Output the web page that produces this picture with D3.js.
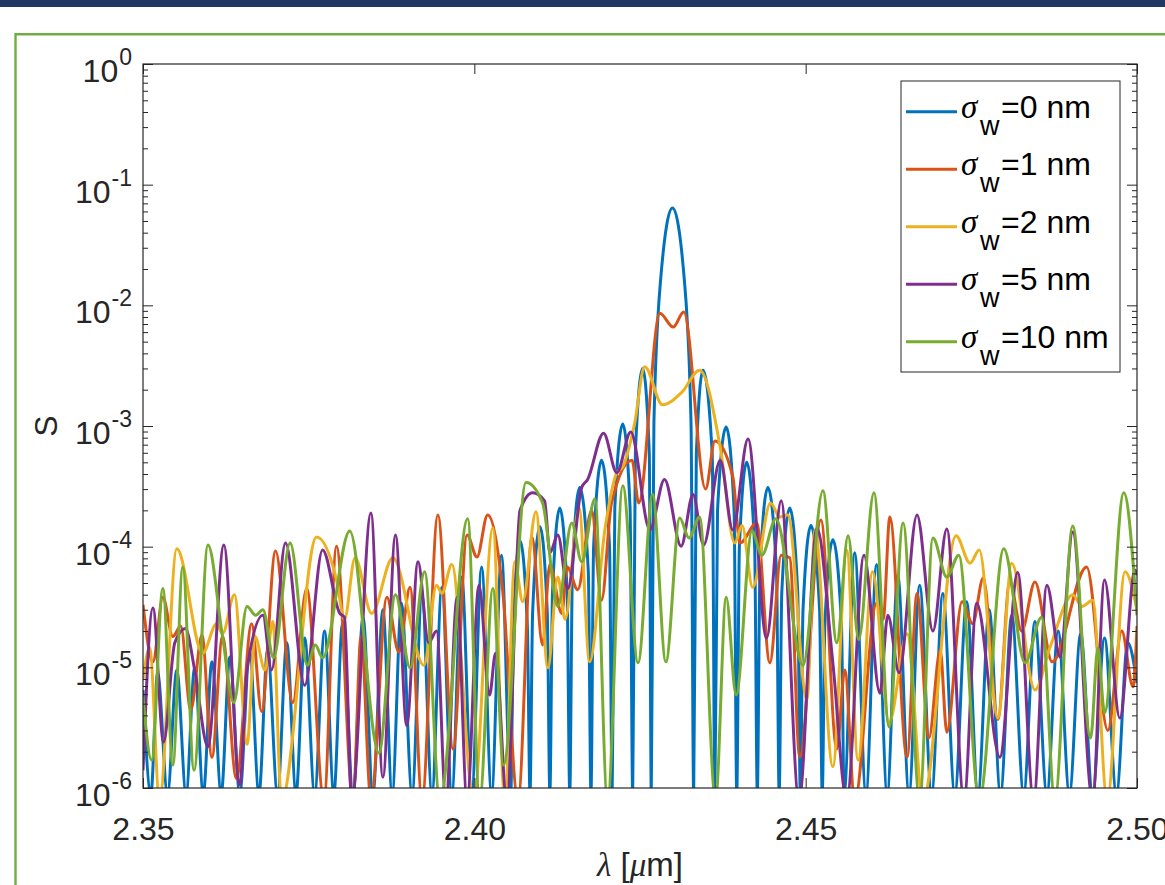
<!DOCTYPE html>
<html>
<head>
<meta charset="utf-8">
<script src="https://cdn.jsdelivr.net/npm/d3@7"></script>
<style>
  html, body { margin: 0; padding: 0; background: #fff; }
  svg { display: block; font-family: "Liberation Sans", Arial, sans-serif; }
</style>
</head>
<body>
<svg id="chart" width="1165" height="885"></svg>
<script>
const xTicks = [2.35, 2.40, 2.45, 2.50];
const xTickLabels = ["2.35", "2.40", "2.45", "2.50"];
const yExponents = [0, -1, -2, -3, -4, -5, -6];
const seriesNames = ["0", "1", "2", "5", "10"];
const seriesColors = ["#0072BD", "#D95319", "#EDB120", "#7E2F8E", "#77AC30"];

// [lambda (um), S]; values under 1e-6 mark dips that fall below the axis floor
const sigma0 = [
  [2.3500, 6.5e-6], [2.3512, 9e-7], [2.3522, 9.0e-6], [2.3537, 9e-7], [2.3551, 9.5e-6], [2.3565, 9e-7],
  [2.3578, 9.9e-6], [2.3591, 9e-7], [2.3604, 1.11e-5], [2.3618, 9e-7], [2.3631, 1.22e-5], [2.3646, 9e-7],
  [2.3661, 1.34e-5], [2.3675, 9e-7], [2.3688, 1.39e-5], [2.3703, 9e-7], [2.3717, 1.6e-5], [2.3731, 9e-7],
  [2.3744, 1.75e-5], [2.3759, 9e-7], [2.3774, 2.0e-5], [2.3788, 9e-7], [2.3801, 2.3e-5], [2.3817, 9e-7],
  [2.3832, 2.6e-5], [2.3847, 9e-7], [2.3862, 3.0e-5], [2.3876, 9e-7], [2.3890, 3.4e-5], [2.3906, 9e-7],
  [2.3921, 4.0e-5], [2.3936, 9e-7], [2.3951, 4.6e-5], [2.3966, 9e-7], [2.3981, 5.6e-5], [2.3996, 9e-7],
  [2.4011, 6.8e-5], [2.4026, 9e-7], [2.4041, 8.5e-5], [2.4055, 9e-7],
  [2.4059, 2.2e-5], [2.4069, 1.12e-4], [2.4080, 2.2e-5], [2.4084, 9e-7],
  [2.4088, 2.9e-5], [2.4099, 1.46e-4], [2.4110, 2.9e-5], [2.4114, 9e-7],
  [2.4118, 4.2e-5], [2.4129, 2.09e-4], [2.4140, 4.2e-5], [2.4144, 9e-7],
  [2.4148, 6.2e-5], [2.4159, 3.1e-4], [2.4172, 6.2e-5], [2.4176, 9e-7],
  [2.4180, 1.0e-4], [2.4192, 5.2e-4], [2.4204, 1.0e-4], [2.4208, 9e-7],
  [2.4212, 2.1e-4], [2.4224, 1.04e-3], [2.4235, 2.1e-4], [2.4239, 9e-7],
  [2.4243, 6.0e-4], [2.4254, 3.0e-3], [2.4264, 6.0e-4], [2.4267, 9e-7],
  [2.4271, 1.06e-3], [2.4281, 1.6e-2], [2.4299, 6.4e-2], [2.4317, 1.6e-2], [2.4327, 1.06e-3], [2.4331, 9e-7],
  [2.4335, 5.8e-4], [2.4345, 2.9e-3], [2.4359, 5.8e-4], [2.4363, 9e-7],
  [2.4367, 2.0e-4], [2.4380, 9.8e-4], [2.4392, 2.0e-4], [2.4396, 9e-7],
  [2.4400, 1.0e-4], [2.4411, 5.0e-4], [2.4423, 1.0e-4], [2.4427, 9e-7],
  [2.4431, 6.2e-5], [2.4443, 3.1e-4], [2.4456, 6.2e-5], [2.4460, 9e-7],
  [2.4464, 4.2e-5], [2.4476, 2.09e-4], [2.4488, 4.2e-5], [2.4492, 9e-7],
  [2.4496, 3.0e-5], [2.4508, 1.5e-4], [2.4521, 3.0e-5], [2.4525, 9e-7],
  [2.4529, 2.3e-5], [2.4541, 1.14e-4], [2.4554, 2.3e-5], [2.4558, 9e-7],
  [2.4574, 8.9e-5], [2.4591, 9e-7], [2.4607, 7.1e-5], [2.4623, 9e-7], [2.4639, 5.8e-5], [2.4656, 9e-7],
  [2.4672, 4.8e-5], [2.4690, 9e-7], [2.4707, 4.1e-5], [2.4725, 9e-7], [2.4743, 3.5e-5], [2.4760, 9e-7],
  [2.4777, 3.0e-5], [2.4794, 9e-7], [2.4811, 2.7e-5], [2.4829, 9e-7], [2.4846, 2.4e-5], [2.4864, 9e-7],
  [2.4881, 2.0e-5], [2.4898, 9e-7], [2.4915, 1.9e-5], [2.4933, 9e-7], [2.4951, 1.75e-5], [2.4969, 9e-7],
  [2.4986, 1.6e-5], [2.5000, 7.4e-6]
];

const sigma1 = [
  [2.3500, 3.3e-5], [2.3515, 1.11e-5], [2.3530, 3.8e-5], [2.3545, 1.8e-5], [2.3557, 2.2e-5], [2.3572, 4.4e-6],
  [2.3589, 1.85e-5], [2.3604, 1.8e-6], [2.3620, 1.8e-5], [2.3641, 1.2e-6], [2.3664, 2.3e-5], [2.3679, 4.3e-6],
  [2.3700, 9.2e-5], [2.3726, 5.1e-6], [2.3747, 4.5e-5], [2.3773, 8e-7], [2.3792, 1.01e-4], [2.3817, 8e-7],
  [2.3829, 1.8e-5], [2.3844, 8e-7], [2.3868, 3.8e-5], [2.3886, 1.34e-5], [2.3903, 4.6e-5], [2.3921, 8e-7],
  [2.3945, 1.83e-4], [2.3968, 2.1e-6], [2.3989, 1.25e-4], [2.4004, 8.2e-5], [2.4020, 1.83e-4], [2.4043, 4.2e-5],
  [2.4066, 8e-7], [2.4087, 1.2e-4], [2.4103, 1.53e-5], [2.4114, 7.1e-5], [2.4132, 2.8e-5], [2.4140, 6.8e-5],
  [2.4156, 4.4e-5], [2.4177, 2.0e-4], [2.4192, 3.6e-5], [2.4207, 2.3e-4], [2.4238, 5.2e-4], [2.4248, 2.3e-4],
  [2.4280, 8.6e-3], [2.4300, 6.6e-3], [2.4316, 8.8e-3], [2.4349, 3.0e-4], [2.4363, 7.5e-4], [2.4390, 3.8e-4],
  [2.4401, 1.07e-4], [2.4426, 1.57e-4], [2.4446, 1.09e-5], [2.4463, 8.5e-5], [2.4476, 8.1e-5], [2.4491, 1.8e-6],
  [2.4523, 1.66e-4], [2.4547, 2.1e-6], [2.4559, 9.5e-6], [2.4574, 8e-7], [2.4607, 3.4e-5], [2.4617, 2.5e-5],
  [2.4627, 1.76e-4], [2.4653, 1.8e-6], [2.4668, 4.1e-5], [2.4686, 2.6e-6], [2.4703, 1.39e-5], [2.4713, 2.9e-6],
  [2.4736, 3.5e-5], [2.4752, 2.3e-5], [2.4768, 5.5e-5], [2.4790, 3.7e-6], [2.4808, 5.1e-5], [2.4826, 2.0e-5],
  [2.4846, 5.1e-5], [2.4872, 1.11e-5], [2.4924, 6.8e-5], [2.4956, 3.0e-6], [2.4977, 2.0e-5], [2.4994, 6.9e-6],
  [2.5000, 2.2e-5]
];

const sigma2 = [
  [2.3500, 7.9e-6], [2.3510, 1.45e-5], [2.3525, 8e-7], [2.3551, 9.6e-5], [2.3590, 1.31e-5], [2.3611, 2.3e-5],
  [2.3620, 1.9e-5], [2.3638, 4.0e-5], [2.3657, 2.3e-6], [2.3669, 1.8e-5], [2.3684, 9.5e-6], [2.3696, 2.4e-5],
  [2.3709, 8e-7], [2.3762, 1.2e-4], [2.3792, 5.3e-5], [2.3804, 2.5e-5], [2.3820, 8.1e-5], [2.3845, 2.8e-5],
  [2.3877, 8.1e-5], [2.3924, 1.04e-5], [2.3943, 4.8e-5], [2.3951, 4.1e-5], [2.3966, 7.1e-5], [2.3999, 8e-7],
  [2.4028, 1.43e-4], [2.4046, 8e-7], [2.4061, 7.5e-5], [2.4073, 3.5e-5], [2.4093, 1.95e-4], [2.4111, 9.9e-6],
  [2.4126, 5.6e-5], [2.4137, 2.5e-5], [2.4158, 2.09e-4], [2.4174, 1.11e-5], [2.4197, 1.38e-4], [2.4215, 4.1e-4],
  [2.4224, 4.6e-4], [2.4242, 1.06e-3], [2.4257, 3.1e-3], [2.4284, 1.5e-3], [2.4313, 1.9e-3], [2.4340, 2.9e-3],
  [2.4371, 6.7e-4], [2.4393, 1.07e-4], [2.4404, 1.5e-4], [2.4420, 4.6e-5], [2.4447, 2.3e-4], [2.4461, 1.76e-4],
  [2.4473, 1.83e-4], [2.4502, 5.4e-6], [2.4514, 1.38e-4], [2.4541, 1.5e-6], [2.4562, 9.4e-5], [2.4579, 1.7e-6],
  [2.4601, 6.2e-5], [2.4626, 3.5e-6], [2.4653, 1.9e-5], [2.4677, 8e-7], [2.4727, 1.23e-4], [2.4748, 7.3e-5],
  [2.4762, 9.4e-5], [2.4790, 3.8e-6], [2.4811, 7.3e-5], [2.4846, 6.5e-6], [2.4869, 1.48e-5], [2.4903, 4.0e-5],
  [2.4917, 3.2e-5], [2.4933, 3.6e-5], [2.4955, 8e-7], [2.4982, 6.2e-5], [2.5000, 3.0e-5]
];

const sigma5 = [
  [2.3500, 1.4e-6], [2.3515, 3.1e-5], [2.3531, 2.4e-6], [2.3548, 1.6e-5], [2.3564, 2.1e-5], [2.3578, 9.5e-6],
  [2.3598, 2.2e-6], [2.3622, 1.03e-4], [2.3646, 1.06e-6], [2.3657, 9.5e-6], [2.3681, 2.7e-5], [2.3694, 9.5e-6],
  [2.3715, 1.07e-4], [2.3744, 7.1e-6], [2.3771, 9.4e-5], [2.3797, 2.8e-5], [2.3804, 2.6e-5], [2.3815, 8e-7],
  [2.3844, 1.9e-4], [2.3862, 1.23e-6], [2.3881, 1.25e-4], [2.3898, 3.3e-6], [2.3915, 7.5e-5], [2.3931, 1.6e-5],
  [2.3943, 2.0e-5], [2.3957, 8e-7], [2.3974, 3.8e-5], [2.3989, 8e-7], [2.4007, 4.8e-5], [2.4023, 5.9e-6],
  [2.4032, 1.31e-5], [2.4049, 8e-7], [2.4069, 2.0e-4], [2.4088, 2.8e-4], [2.4106, 2.4e-4], [2.4114, 8.9e-5],
  [2.4126, 1.25e-4], [2.4141, 4.5e-5], [2.4162, 3.1e-4], [2.4171, 3.6e-4], [2.4195, 8.7e-4], [2.4215, 4.1e-4],
  [2.4236, 8.9e-4], [2.4265, 1.38e-4], [2.4287, 3.6e-4], [2.4312, 1.01e-4], [2.4330, 2.7e-4], [2.4346, 1.03e-4],
  [2.4371, 5.2e-4], [2.4390, 1.38e-4], [2.4413, 7.8e-4], [2.4441, 1.75e-5], [2.4463, 2.4e-4], [2.4490, 8e-7],
  [2.4517, 1.43e-4], [2.4541, 1.09e-5], [2.4562, 8e-7], [2.4588, 8.5e-5], [2.4612, 6.1e-6], [2.4624, 2.7e-5],
  [2.4641, 9.0e-6], [2.4668, 1.83e-4], [2.4692, 2.0e-5], [2.4713, 1.4e-4], [2.4739, 8e-7], [2.4758, 3.4e-5],
  [2.4793, 1.8e-6], [2.4820, 6.1e-5], [2.4844, 8e-7], [2.4864, 4.8e-5], [2.4884, 1.22e-5], [2.4903, 1.32e-4],
  [2.4933, 8e-7], [2.4951, 5.3e-5], [2.4974, 3.8e-6], [2.4997, 6.4e-5], [2.5000, 5.8e-5]
];

const sigma10 = [
  [2.3500, 5.7e-6], [2.3513, 1.7e-6], [2.3530, 4.5e-5], [2.3545, 1.55e-6], [2.3560, 6.8e-5], [2.3577, 1.4e-6],
  [2.3598, 1.03e-4], [2.3620, 1.8e-5], [2.3637, 5.1e-6], [2.3657, 3.2e-5], [2.3670, 2.7e-5], [2.3681, 3.0e-5],
  [2.3697, 1.2e-5], [2.3722, 1.07e-4], [2.3748, 1.04e-5], [2.3760, 1.53e-5], [2.3771, 1.2e-5], [2.3812, 1.35e-4],
  [2.3856, 1.95e-6], [2.3881, 4.0e-5], [2.3903, 9.9e-6], [2.3925, 6.2e-5], [2.3948, 8e-7], [2.3990, 1.7e-4],
  [2.4008, 8e-7], [2.4028, 4.5e-5], [2.4044, 1.55e-6], [2.4078, 3.4e-4], [2.4103, 2.3e-4], [2.4126, 3.2e-5],
  [2.4147, 1.57e-4], [2.4162, 7.5e-5], [2.4182, 2.5e-4], [2.4201, 8e-7], [2.4224, 3.2e-4], [2.4247, 1.09e-5],
  [2.4269, 2.7e-4], [2.4289, 1.11e-5], [2.4310, 1.73e-4], [2.4324, 1.18e-4], [2.4340, 1.76e-4], [2.4364, 8e-7],
  [2.4380, 3.8e-5], [2.4395, 5.9e-6], [2.4419, 1.35e-4], [2.4434, 8.5e-5], [2.4455, 1.7e-4], [2.4496, 1.04e-5],
  [2.4526, 2.9e-4], [2.4547, 1.6e-5], [2.4564, 1.23e-4], [2.4580, 1.7e-5], [2.4603, 2.8e-4], [2.4626, 3.2e-6],
  [2.4647, 1.57e-4], [2.4672, 8e-7], [2.4692, 1.18e-4], [2.4713, 5.6e-5], [2.4731, 8.5e-5], [2.4762, 8e-7],
  [2.4799, 9.6e-5], [2.4831, 1.09e-5], [2.4856, 2.6e-5], [2.4876, 8e-7], [2.4903, 1.48e-4], [2.4930, 2.6e-6],
  [2.4941, 1.45e-5], [2.4951, 4.2e-6], [2.4980, 2.8e-4], [2.5000, 2.7e-5]
];

const series = [sigma0, sigma1, sigma2, sigma5, sigma10];

const svg = d3.select("#chart");
const width = Number.parseFloat(svg.attr("width"));
const height = Number.parseFloat(svg.attr("height"));

const margin = { top: 64, right: 28, bottom: 97, left: 143 };
const innerWidth = width - margin.left - margin.right;
const innerHeight = height - margin.top - margin.bottom;
const axisColor = "#262626";

// slide frame round the figure
svg.append("rect").attr("x", 0).attr("y", 0).attr("width", width).attr("height", 7).attr("fill", "#203864");
svg.append("path")
  .attr("d", `M15.5,${height} V34.3 H${width}`)
  .attr("fill", "none")
  .attr("stroke", "#70ad47")
  .attr("stroke-width", 2.4);

const svgElemGroup = svg.append("g").attr("transform", `translate(${margin.left},${margin.top})`);

const xScale = d3.scaleLinear().domain([2.35, 2.5]).range([0, innerWidth]);
const yScale = d3.scaleLog().domain([1e-6, 1]).range([innerHeight, 0]);

svgElemGroup.append("defs").append("clipPath").attr("id", "plotClip")
  .append("rect").attr("width", innerWidth).attr("height", innerHeight);

const lineGenerator = d3.line()
  .x((d) => xScale(d[0]))
  .y((d) => yScale(d[1]))
  .curve(d3.curveMonotoneX);

svgElemGroup.append("g")
  .attr("clip-path", "url(#plotClip)")
  .selectAll("path")
  .data(series)
  .join("path")
  .attr("d", lineGenerator)
  .attr("fill", "none")
  .attr("stroke", (d, i) => seriesColors[i])
  .attr("stroke-width", 3)
  .attr("stroke-linejoin", "round");

// axes: ticks point inwards, box drawn separately
const majorY = yExponents.map((e) => Math.pow(10, e));
const minorY = [];
for (let e = -6; e < 0; e++) {
  for (let m = 2; m <= 9; m++) minorY.push(m * Math.pow(10, e));
}

function styleAxis(sel) {
  sel.select(".domain").remove();
  sel.attr("color", axisColor)
    .attr("font-size", 32)
    .attr("font-family", '"Liberation Sans", Arial, sans-serif');
}
function tickOnly(sel) {
  styleAxis(sel);
  sel.selectAll("text").remove();
}

svgElemGroup.append("g")
  .attr("transform", `translate(0,${innerHeight})`)
  .call(d3.axisBottom(xScale).tickValues(xTicks).tickFormat((d, i) => xTickLabels[i])
    .tickSizeInner(-10).tickSizeOuter(0).tickPadding(29))
  .call(styleAxis);
svgElemGroup.append("g")
  .call(d3.axisTop(xScale).tickValues(xTicks).tickSizeInner(-10).tickSizeOuter(0))
  .call(tickOnly);
svgElemGroup.append("g")
  .call(d3.axisLeft(yScale).tickValues(majorY).tickSizeInner(-10).tickSizeOuter(0))
  .call(tickOnly);
svgElemGroup.append("g")
  .call(d3.axisLeft(yScale).tickValues(minorY).tickSizeInner(-5).tickSizeOuter(0))
  .call(tickOnly);
svgElemGroup.append("g")
  .attr("transform", `translate(${innerWidth},0)`)
  .call(d3.axisRight(yScale).tickValues(majorY).tickSizeInner(-10).tickSizeOuter(0))
  .call(tickOnly);
svgElemGroup.append("g")
  .attr("transform", `translate(${innerWidth},0)`)
  .call(d3.axisRight(yScale).tickValues(minorY).tickSizeInner(-5).tickSizeOuter(0))
  .call(tickOnly);

svgElemGroup.append("rect")
  .attr("width", innerWidth)
  .attr("height", innerHeight)
  .attr("fill", "none")
  .attr("stroke", axisColor)
  .attr("stroke-width", 1.2);

// y tick labels 10^n
const yLabelGroup = svgElemGroup.append("g").attr("fill", axisColor);
yExponents.forEach((e) => {
  const y = yScale(Math.pow(10, e));
  const sup = yLabelGroup.append("text")
    .attr("x", -11)
    .attr("y", y + 1)
    .attr("text-anchor", "end")
    .attr("font-size", 23)
    .text(String(e));
  const w = sup.node().getComputedTextLength();
  yLabelGroup.append("text")
    .attr("x", -11 - w - 1)
    .attr("y", y + 18)
    .attr("text-anchor", "end")
    .attr("font-size", 32)
    .text("10");
});

// axis titles
svg.append("text")
  .attr("transform", "translate(57,426) rotate(-90)")
  .attr("text-anchor", "middle")
  .attr("font-size", 32)
  .attr("fill", axisColor)
  .text("S");

const xTitle = svg.append("text")
  .attr("x", margin.left + innerWidth / 2)
  .attr("y", 876)
  .attr("text-anchor", "middle")
  .attr("font-size", 33)
  .attr("fill", axisColor);
xTitle.append("tspan").attr("font-style", "italic").attr("font-family", '"Liberation Serif", serif').text("λ");
xTitle.append("tspan").text(" [");
xTitle.append("tspan").attr("font-style", "italic").attr("font-family", '"Liberation Serif", serif').text("μ");
xTitle.append("tspan").text("m]");

// legend
const legend = svg.append("g").attr("fill", "#000");
legend.append("rect")
  .attr("x", 901).attr("y", 81)
  .attr("width", 219).attr("height", 291)
  .attr("fill", "#fff")
  .attr("stroke", axisColor)
  .attr("stroke-width", 1);

seriesNames.forEach((name, i) => {
  const ly = 111.7 + i * 57.5;
  legend.append("line")
    .attr("x1", 906).attr("x2", 957)
    .attr("y1", ly).attr("y2", ly)
    .attr("stroke", seriesColors[i])
    .attr("stroke-width", 3);
  legend.append("text")
    .attr("x", 961).attr("y", ly + 6)
    .attr("font-size", 33)
    .attr("font-style", "italic")
    .attr("font-family", '"Liberation Serif", serif')
    .text("σ");
  legend.append("text")
    .attr("x", 980).attr("y", ly + 23)
    .attr("font-size", 27)
    .text("w");
  legend.append("text")
    .attr("x", 1001).attr("y", ly + 6)
    .attr("font-size", 32)
    .text(`=${name} nm`);
});
</script>
</body>
</html>
